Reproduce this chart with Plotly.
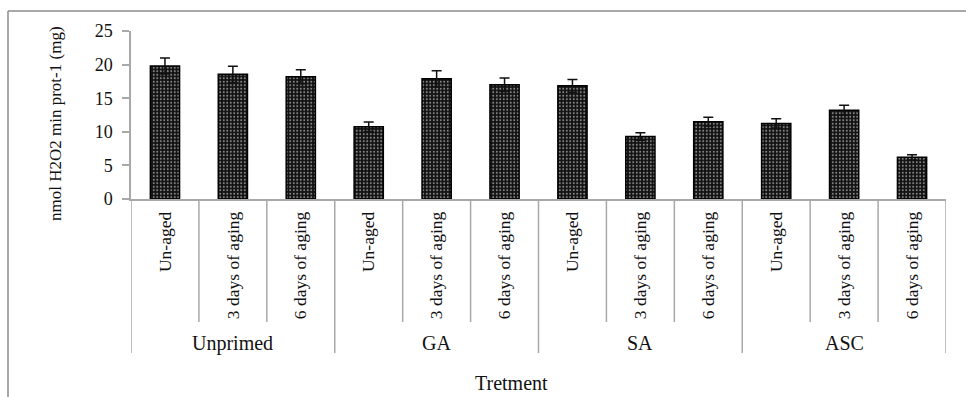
import plotly.graph_objects as go

# Treatment groups and aging levels
groups = ["Unprimed", "GA", "SA", "ASC"]
levels = ["Un-aged", "3 days of aging", "6 days of aging"]

# Enzyme activity (nmol H2O2 min prot-1 (mg)) and standard errors, in group order
activity = [19.8, 18.55, 18.2, 10.75, 17.9, 17.0, 16.85, 9.3, 11.5, 11.25, 13.2, 6.2]
std_err = [1.2, 1.2, 1.05, 0.7, 1.2, 1.0, 0.95, 0.55, 0.65, 0.7, 0.75, 0.4]

sub_labels = [lv for _ in groups for lv in levels]
xpos = list(range(len(sub_labels)))

W, H = 966, 397
L, R, T, B = 131, 20, 31, 198
PW, PH = W - L - R, H - T - B
AXIS_GREY = "#a8a8a8"
TEXT = "#111111"
FONT = "Liberation Serif, Times New Roman, serif"


def px_x(px):
    return (px - L) / PW


def px_y(py):
    return (H - B - py) / PH


fig = go.Figure()
fig.add_trace(go.Bar(
    x=xpos,
    y=activity,
    width=0.43,
    marker=dict(
        color="#111111",
        line=dict(color="#000000", width=1.5),
        pattern=dict(shape=".", size=3.5, solidity=0.25,
                     fgcolor="#8a8a8a", bgcolor="#111111", fillmode="replace"),
    ),
    error_y=dict(type="data", array=std_err, visible=True,
                 color="#111111", thickness=1.5, width=5),
    showlegend=False,
))

shapes = []
# category dividers below the axis: short ones between levels, long ones between groups
n = len(sub_labels)
for k in range(n + 1):
    xb = k - 0.5
    long_line = (k % len(levels) == 0)
    y_end = px_y(353) if long_line else px_y(322)
    shapes.append(dict(type="line", xref="x", yref="paper", x0=xb, x1=xb,
                       y0=0, y1=y_end, line=dict(color=AXIS_GREY, width=1.5)))

# outer chart frame (top and left edges)
shapes.append(dict(type="line", xref="paper", yref="paper",
                   x0=px_x(8), x1=px_x(1000), y0=px_y(11), y1=px_y(11),
                   line=dict(color="#8c8c8c", width=1.5)))
shapes.append(dict(type="line", xref="paper", yref="paper",
                   x0=px_x(8), x1=px_x(8), y0=px_y(11), y1=px_y(420),
                   line=dict(color="#8c8c8c", width=1.5)))

annotations = []
for gi, g in enumerate(groups):
    annotations.append(dict(
        text=g, xref="x", yref="paper", x=gi * len(levels) + 1, y=px_y(343),
        showarrow=False, font=dict(family=FONT, size=20, color=TEXT),
        xanchor="center", yanchor="middle"))

annotations.append(dict(
    text="Tretment", xref="paper", yref="paper", x=px_x(511), y=px_y(383),
    showarrow=False, font=dict(family=FONT, size=20, color=TEXT),
    xanchor="center", yanchor="middle"))

annotations.append(dict(
    text="nmol H2O2 min prot-1 (mg)", xref="paper", yref="paper",
    x=px_x(55), y=px_y(124), textangle=-90,
    showarrow=False, font=dict(family=FONT, size=17, color=TEXT),
    xanchor="center", yanchor="middle"))

fig.update_layout(
    width=W, height=H,
    margin=dict(l=L, r=R, t=T, b=B, autoexpand=False),
    paper_bgcolor="white", plot_bgcolor="white",
    shapes=shapes, annotations=annotations,
    font=dict(family=FONT, color=TEXT),
    xaxis=dict(
        range=[-0.5, n - 0.5], tickmode="array", tickvals=xpos, ticktext=sub_labels,
        tickangle=-90, ticks="", showline=True, linecolor=AXIS_GREY, linewidth=1.5,
        showgrid=False, zeroline=False, tickfont=dict(family=FONT, size=17.5, color=TEXT),
        ticklabelstandoff=4, automargin=False, fixedrange=True,
    ),
    yaxis=dict(
        range=[0, 25], dtick=5, ticks="outside", ticklen=7, tickcolor=AXIS_GREY,
        tickwidth=1.5, showline=True, linecolor=AXIS_GREY, linewidth=1.5,
        showgrid=False, zeroline=False, tickfont=dict(family=FONT, size=18, color=TEXT),
        ticklabelstandoff=6, automargin=False, fixedrange=True,
    ),
)

fig.write_html("out.html")
